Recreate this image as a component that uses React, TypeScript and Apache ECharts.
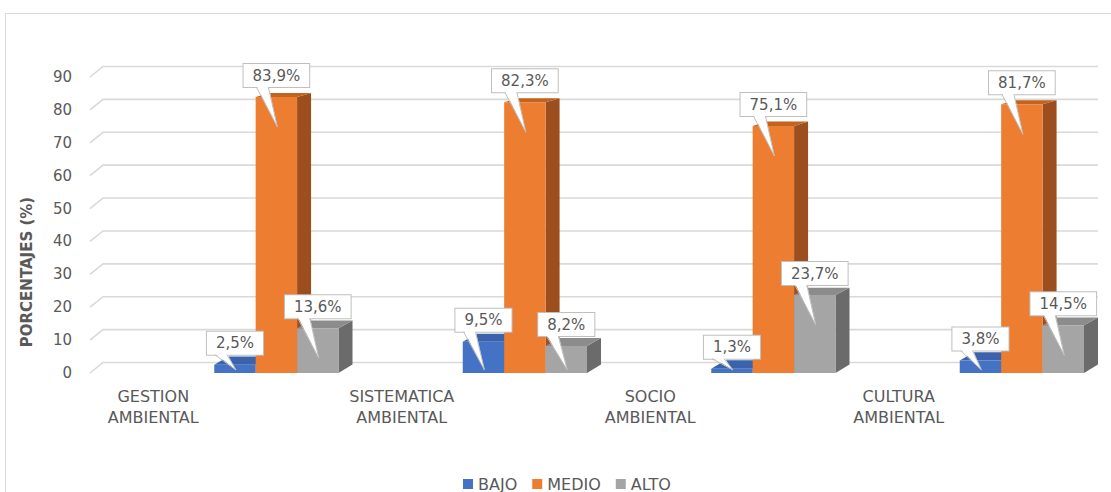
import React, { useEffect, useRef } from "react";
import * as echarts from "echarts";

const categories = ["GESTION AMBIENTAL", "SISTEMATICA AMBIENTAL", "SOCIO AMBIENTAL", "CULTURA AMBIENTAL"];
const seriesNames = ["BAJO", "MEDIO", "ALTO"];
const bajo = [2.5, 9.5, 1.3, 3.8];
const medio = [83.9, 82.3, 75.1, 81.7];
const alto = [13.6, 8.2, 23.7, 14.5];
const yTicks = [0, 10, 20, 30, 40, 50, 60, 70, 80, 90];

const FONT = "DejaVu Sans";
const TEXT = "#595959";
const colors = [
  { front: "#4472C4", side: "#2F5597", top: "#3A63AC" },
  { front: "#ED7D31", side: "#9C4E1E", top: "#C2631F" },
  { front: "#A5A5A5", side: "#6B6B6B", top: "#8C8C8C" },
];

const DX = 14;
const depthDy = (y: number) => -(y + 148) * 0.0163;
const fmt = (v: number) => v.toFixed(1).replace(".", ",") + "%";

function barRenderer(k: number) {
  return (params: any, api: any) => {
    const i = api.value(0);
    const v = api.value(1);
    const p = api.coord([i, v]);
    const b = api.coord([i, 0]);
    const band = api.size([1, 0])[0];
    const w = band / 6;
    const x0 = b[0] + k * w;
    const x1 = x0 + w;
    const yT = p[1];
    const yB = b[1];
    const dT = depthDy(yT);
    const dB = depthDy(yB);
    const c = colors[k];
    return {
      type: "group",
      children: [
        { type: "polygon", shape: { points: [[x1, yB], [x1 + DX, yB + dB], [x1 + DX, yT + dT], [x1, yT]] }, style: { fill: c.side } },
        { type: "polygon", shape: { points: [[x0, yT], [x0 + DX, yT + dT], [x1 + DX, yT + dT], [x1, yT]] }, style: { fill: c.top } },
        { type: "rect", shape: { x: x0, y: yT, width: w, height: yB - yT }, style: { fill: c.front } },
      ],
    };
  };
}

function calloutRenderer(params: any, api: any) {
  const i = api.value(0);
  const v = api.value(1);
  const k = api.value(2);
  const p = api.coord([i, v]);
  const b = api.coord([i, 0]);
  const band = api.size([1, 0])[0];
  const w = band / 6;
  const cx = b[0] + (k + 0.5) * w;
  const yT = p[1];
  const yB = b[1];
  const B = yT - 10;
  const tipY = Math.min(yT + 30, yB - 3);
  return {
    type: "group",
    children: [
      {
        type: "text",
        style: {
          text: fmt(v),
          x: cx,
          y: B,
          align: "center",
          verticalAlign: "bottom",
          fill: TEXT,
          fontSize: 15,
          fontFamily: FONT,
          lineHeight: 19,
          backgroundColor: "#ffffff",
          borderColor: "#BFBFBF",
          borderWidth: 1,
          padding: [2, 9, 2, 9],
        },
      },
      { type: "polygon", shape: { points: [[cx - 20, B - 1.5], [cx - 8, B - 1.5], [cx + 1, tipY]] }, style: { fill: "#ffffff" } },
      { type: "polyline", shape: { points: [[cx - 20, B], [cx + 1, tipY], [cx - 8, B]] }, style: { stroke: "#BFBFBF", lineWidth: 1, fill: null } },
    ],
  };
}

function gridRenderer(params: any, api: any) {
  const v = api.value(1);
  const y = api.coord([0, v])[1];
  const cs = params.coordSys;
  const x0 = cs.x;
  const xr = cs.x + cs.width + DX;
  return {
    type: "polyline",
    shape: { points: [[x0, y], [x0 + 13, y - 10.5], [xr, y - 10.5]] },
    style: { stroke: "#D9D9D9", lineWidth: 1.6, fill: null },
  };
}

export default function App() {
  const ref = useRef<HTMLDivElement>(null);
  useEffect(() => {
    if (!ref.current) return;
    const chart = echarts.init(ref.current, null, { renderer: "svg" });
    const valuesBySeries = [bajo, medio, alto];
    const calloutData: number[][] = [];
    valuesBySeries.forEach((arr, k) => arr.forEach((v, i) => calloutData.push([i, v, k])));
    chart.setOption({
      animation: false,
      backgroundColor: "#ffffff",
      textStyle: { fontFamily: FONT },
      graphic: [
        { type: "rect", shape: { x: 5.5, y: 13.5, width: 1130, height: 500 }, style: { fill: null, stroke: "#D9D9D9", lineWidth: 1 }, silent: true, z: -10 },
      ],
      grid: { left: 90, top: 77, width: 994, height: 296 },
      legend: {
        data: seriesNames,
        left: 458,
        top: 471,
        padding: [5, 5, 5, 5],
        icon: "rect",
        itemWidth: 10,
        itemHeight: 10,
        itemGap: 15,
        textStyle: { color: TEXT, fontSize: 16, fontFamily: FONT },
      },
      xAxis: {
        type: "category",
        data: categories,
        boundaryGap: true,
        axisLine: { show: false },
        axisTick: { show: false },
        splitLine: { show: false },
        axisLabel: {
          interval: 0,
          color: TEXT,
          fontSize: 16,
          fontFamily: FONT,
          lineHeight: 21,
          margin: 13,
          padding: [0, 122, 0, 0],
          formatter: (v: string) => v.replace(" ", "\n"),
        },
      },
      yAxis: {
        type: "value",
        min: 0,
        max: 90,
        interval: 10,
        axisLine: { show: false },
        axisTick: { show: false },
        splitLine: { show: false },
        axisLabel: { color: TEXT, fontSize: 15, fontFamily: FONT, margin: 18 },
        name: "PORCENTAJES (%)",
        nameLocation: "middle",
        nameRotate: 90,
        nameGap: 56,
        nameTextStyle: { color: TEXT, fontSize: 15, fontWeight: "bold", fontFamily: FONT, padding: [0, 94, 0, 0] },
      },
      series: [
        {
          type: "custom",
          name: "grid",
          renderItem: gridRenderer,
          data: yTicks.map((t) => [0, t]),
          encode: { x: 0, y: 1 },
          z: 1,
          silent: true,
        },
        ...seriesNames.map((name, k) => ({
          type: "custom",
          name,
          renderItem: barRenderer(k),
          data: valuesBySeries[k].map((v, i) => [i, v]),
          encode: { x: 0, y: 1 },
          itemStyle: { color: colors[k].front },
          z: 2,
        })),
        {
          type: "custom",
          name: "labels",
          renderItem: calloutRenderer,
          data: calloutData,
          encode: { x: 0, y: 1 },
          z: 5,
          silent: true,
        },
      ],
    });
    return () => chart.dispose();
  }, []);
  return <div ref={ref} style={{ position: "fixed", left: 0, top: 0, width: 1111, height: 492 }} />;
}
